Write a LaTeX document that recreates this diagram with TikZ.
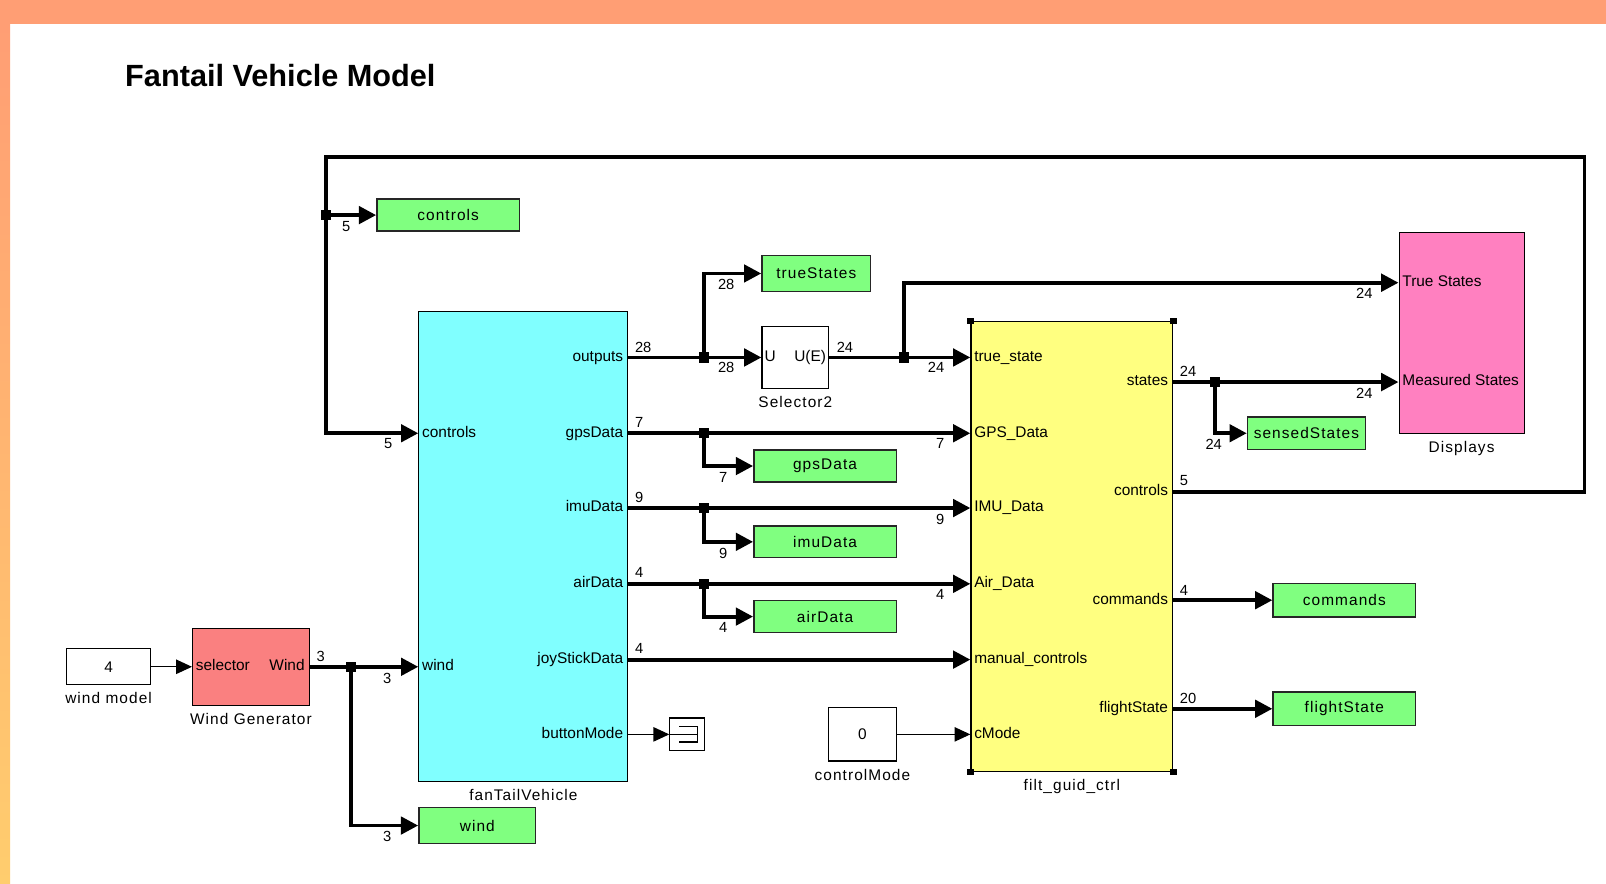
\documentclass[tikz,border=0pt]{standalone}
\usepackage{fontspec}
\setmainfont{Liberation Sans}
\newfontfamily\spacedsans[LetterSpace=7]{Liberation Sans}
\usetikzlibrary{arrows.meta, positioning}
\definecolor{band-orange}{HTML}{FF9E74}
\definecolor{band-yellow}{HTML}{FFCD6E}
\definecolor{sub-cyan}{HTML}{80FFFF}
\definecolor{sub-yellow}{HTML}{FFFF80}
\definecolor{goto-green}{HTML}{80FF80}
\definecolor{gen-red}{HTML}{FA8080}
\definecolor{disp-pink}{HTML}{FF80C0}

\begin{document}
\begin{tikzpicture}[x=0.025cm, y=-0.025cm,
    every node/.style={font=\fontsize{10.7}{12}\selectfont, inner sep=0pt},
    blk/.style={draw, line width=0.8pt},
    gototag/.style={draw=black!85, line width=1pt, fill=goto-green,
      minimum width=3.475cm, minimum height=0.775cm,
      font=\spacedsans\fontsize{10.7}{12}\selectfont},
    blabel/.style={font=\spacedsans\fontsize{10.7}{12}\selectfont},
    portL/.style={anchor=mid west, inner xsep=2.5pt},
    portR/.style={anchor=mid east, inner xsep=3.5pt},
    width lbl/.style={font=\fontsize{10.2}{12}\selectfont},
    junc/.style={fill, minimum size=7pt},
    handle/.style={fill, minimum size=4.5pt},
    sigline/.style={line width=2.7pt},
    sig/.style={sigline, -{Triangle[length=12pt, width=12pt]}},
    thinsig/.style={line width=0.8pt, -{Triangle[length=11pt, width=10pt]}}]

    % page background
    \fill[white] (0,0) rectangle (1568,863);
    \fill[band-orange] (0,0) rectangle (1568,23);
    \shade[top color=band-orange, bottom color=band-yellow] (0,23) rectangle (10,863);
    \useasboundingbox (0,0) rectangle (1568,863);

    \node[font=\fontsize{21.3}{25}\selectfont\bfseries, anchor=base west]
      (title) at (122,84) {Fantail Vehicle Model};

    % wind source
    \node[blk, fill=white, minimum width=2.05cm, minimum height=0.875cm]
      (wm) at (106,651) {4};
    \node[blk, fill=gen-red, minimum width=2.85cm, minimum height=1.875cm]
      (wg) at (245,651) {};
    \node[portL] (wgSel) at (wg.west) {selector};
    \node[portR] (wgWind) at (wg.east) {Wind};

    % vehicle
    \node[blk, fill=sub-cyan, minimum width=5.1cm, minimum height=11.475cm]
      (ftv) at (511,533.5) {};
    \node[portL] (ftvCtl) at (ftv.west |- 0,423) {controls};
    \node[portL] (ftvWind) at (ftv.west |- 0,651) {wind};
    \node[portR] (ftvOut) at (ftv.east |- 0,349) {outputs};
    \node[portR] (ftvGps) at (ftv.east |- 0,423) {gpsData};
    \node[portR] (ftvImu) at (ftv.east |- 0,496) {imuData};
    \node[portR] (ftvAir) at (ftv.east |- 0,570) {airData};
    \node[portR] (ftvJoy) at (ftv.east |- 0,644) {joyStickData};
    \node[portR] (ftvBtn) at (ftv.east |- 0,717) {buttonMode};

    \node[blk, fill=white, minimum width=1.625cm, minimum height=1.525cm]
      (sel) at (776.5,349) {};
    \node[anchor=mid west, inner xsep=2pt] (selU) at (sel.west) {U};
    \node[anchor=mid east, inner xsep=2pt] (selUE) at (sel.east) {U(E)};

    % filter / guidance / control
    \node[blk, fill=sub-yellow, minimum width=4.925cm, minimum height=10.975cm]
      (fgc) at (1046.5,533.5) {};
    \node[portL] (fgcTrue) at (fgc.west |- 0,349) {true\_state};
    \node[portL] (fgcGps) at (fgc.west |- 0,423) {GPS\_Data};
    \node[portL] (fgcImu) at (fgc.west |- 0,496) {IMU\_Data};
    \node[portL] (fgcAir) at (fgc.west |- 0,570) {Air\_Data};
    \node[portL] (fgcMan) at (fgc.west |- 0,644) {manual\_controls};
    \node[portL] (fgcMode) at (fgc.west |- 0,717) {cMode};
    \node[portR] (fgcStates) at (fgc.east |- 0,373) {states};
    \node[portR] (fgcCtl) at (fgc.east |- 0,480) {controls};
    \node[portR] (fgcCmd) at (fgc.east |- 0,586) {commands};
    \node[portR] (fgcFlt) at (fgc.east |- 0,692) {flightState};
    \node[handle] (hNW) at (fgc.north west) {};
    \node[handle] (hNE) at (fgc.north east) {};
    \node[handle] (hSW) at (fgc.south west) {};
    \node[handle] (hSE) at (fgc.south east) {};

    \node[blk, fill=disp-pink, minimum width=3.05cm, minimum height=4.9cm]
      (disp) at (1427,325) {};
    \node[portL] (dispTrue) at (disp.west |- 0,276) {True States};
    \node[portL] (dispMeas) at (disp.west |- 0,373) {Measured States};

    \node[blk, fill=white, minimum width=1.65cm, minimum height=1.3cm]
      (cm) at (842,717) {0};
    \node[blk, fill=white, minimum width=0.85cm, minimum height=0.8cm]
      (term) at (671,717) {};
    \draw[line width=0.8pt] (term.west) -- ++(27,0);
    \draw[line width=0.8pt] (663,709.5) -- (681,709.5) -- (681,724.5) -- (663,724.5);

    % goto tags
    \node[gototag] (ctlGoto) at (437.5,210) {controls};
    \node[gototag, minimum width=2.65cm, minimum height=0.875cm]
      (trueGoto) at (797,267) {trueStates};
    \node[gototag] (gpsGoto) at (805.5,455) {gpsData};
    \node[gototag] (imuGoto) at (805.5,529) {imuData};
    \node[gototag] (airGoto) at (805.5,602) {airData};
    \node[gototag, minimum width=2.875cm, minimum height=0.8cm]
      (sensedGoto) at (1275.5,423) {sensedStates};
    \node[gototag, minimum height=0.825cm] (cmdGoto) at (1312.5,586) {commands};
    \node[gototag, minimum height=0.825cm] (fltGoto) at (1312.5,692) {flightState};
    \node[gototag, minimum width=2.85cm, minimum height=0.875cm]
      (windGoto) at (466,806) {wind};

    % block names
    \node[blabel, below=5pt of wm] (wmName) {wind model};
    \node[blabel, below=5pt of wg] (wgName) {Wind Generator};
    \node[blabel, below=5pt of ftv] (ftvName) {fanTailVehicle};
    \node[blabel, below=5pt of sel] (selName) {Selector2};
    \node[blabel, below=5pt of cm] (cmName) {controlMode};
    \node[blabel, below=5pt of fgc] (fgcName) {filt\_guid\_ctrl};
    \node[blabel, below=5pt of disp] (dispName) {Displays};

    % branch points
    \node[junc] (jWind) at (343,651) {};
    \node[junc] (jCtl) at (318,210) {};
    \node[junc] (jOut) at (687,349) {};
    \node[junc] (jSel) at (883,349) {};
    \node[junc] (jGps) at (687,423) {};
    \node[junc] (jImu) at (687,496) {};
    \node[junc] (jAir) at (687,570) {};
    \node[junc] (jStates) at (1186,373) {};
    \coordinate (loopNE) at (1547,153);
    \coordinate (loopNW) at (318,153);

    % signals
    \draw[thinsig] (wm.east) -- (wgSel.mid west);
    \draw[sigline] (wgWind.mid east) -- (jWind.center);
    \draw[sig] (jWind.center) -- (ftvWind.mid west);
    \draw[sig] (jWind.center) |- (windGoto.west);
    \draw[sigline] (fgcCtl.mid east) -| (loopNE) -- (loopNW) -- (jCtl.center);
    \draw[sig] (jCtl.center) -- (ctlGoto.west);
    \draw[sig] (jCtl.center) |- (ftvCtl.mid west);
    \draw[sigline] (ftvOut.mid east) -- (jOut.center);
    \draw[sig] (jOut.center) -- (sel.west);
    \draw[sig] (jOut.center) |- (trueGoto.west);
    \draw[sigline] (sel.east) -- (jSel.center);
    \draw[sig] (jSel.center) -- (fgcTrue.mid west);
    \draw[sig] (jSel.center) |- (dispTrue.mid west);
    \draw[sigline] (ftvGps.mid east) -- (jGps.center);
    \draw[sig] (jGps.center) -- (fgcGps.mid west);
    \draw[sig] (jGps.center) |- (gpsGoto.west);
    \draw[sigline] (ftvImu.mid east) -- (jImu.center);
    \draw[sig] (jImu.center) -- (fgcImu.mid west);
    \draw[sig] (jImu.center) |- (imuGoto.west);
    \draw[sigline] (ftvAir.mid east) -- (jAir.center);
    \draw[sig] (jAir.center) -- (fgcAir.mid west);
    \draw[sig] (jAir.center) |- (airGoto.west);
    \draw[sig] (ftvJoy.mid east) -- (fgcMan.mid west);
    \draw[thinsig] (ftvBtn.mid east) -- (term.west);
    \draw[thinsig] (cm.east) -- (fgcMode.mid west);
    \draw[sigline] (fgcStates.mid east) -- (jStates.center);
    \draw[sig] (jStates.center) -- (dispMeas.mid west);
    \draw[sig] (jStates.center) |- (sensedGoto.west);
    \draw[sig] (fgcCmd.mid east) -- (cmdGoto.west);
    \draw[sig] (fgcFlt.mid east) -- (fltGoto.west);

    % signal widths
    \foreach \w/\lx/\ly [count=\k] in {3/313/641, 3/378/662, 3/378/817,
        5/338/221, 5/379/433, 5/1156/469, 28/628/339, 28/709/359, 28/709/278,
        24/825/339, 24/914/359, 24/1332/286, 7/624/412, 7/918/433, 7/706/466,
        9/624/486, 9/918/507, 9/706/540, 4/624/559, 4/918/580, 4/706/613,
        4/624/633, 24/1160/363, 24/1332/384, 24/1185/434, 4/1156/576,
        20/1160/682}
      \node[width lbl] (wl\k) at (\lx,\ly) {\w};
  \end{tikzpicture}
\end{document}
